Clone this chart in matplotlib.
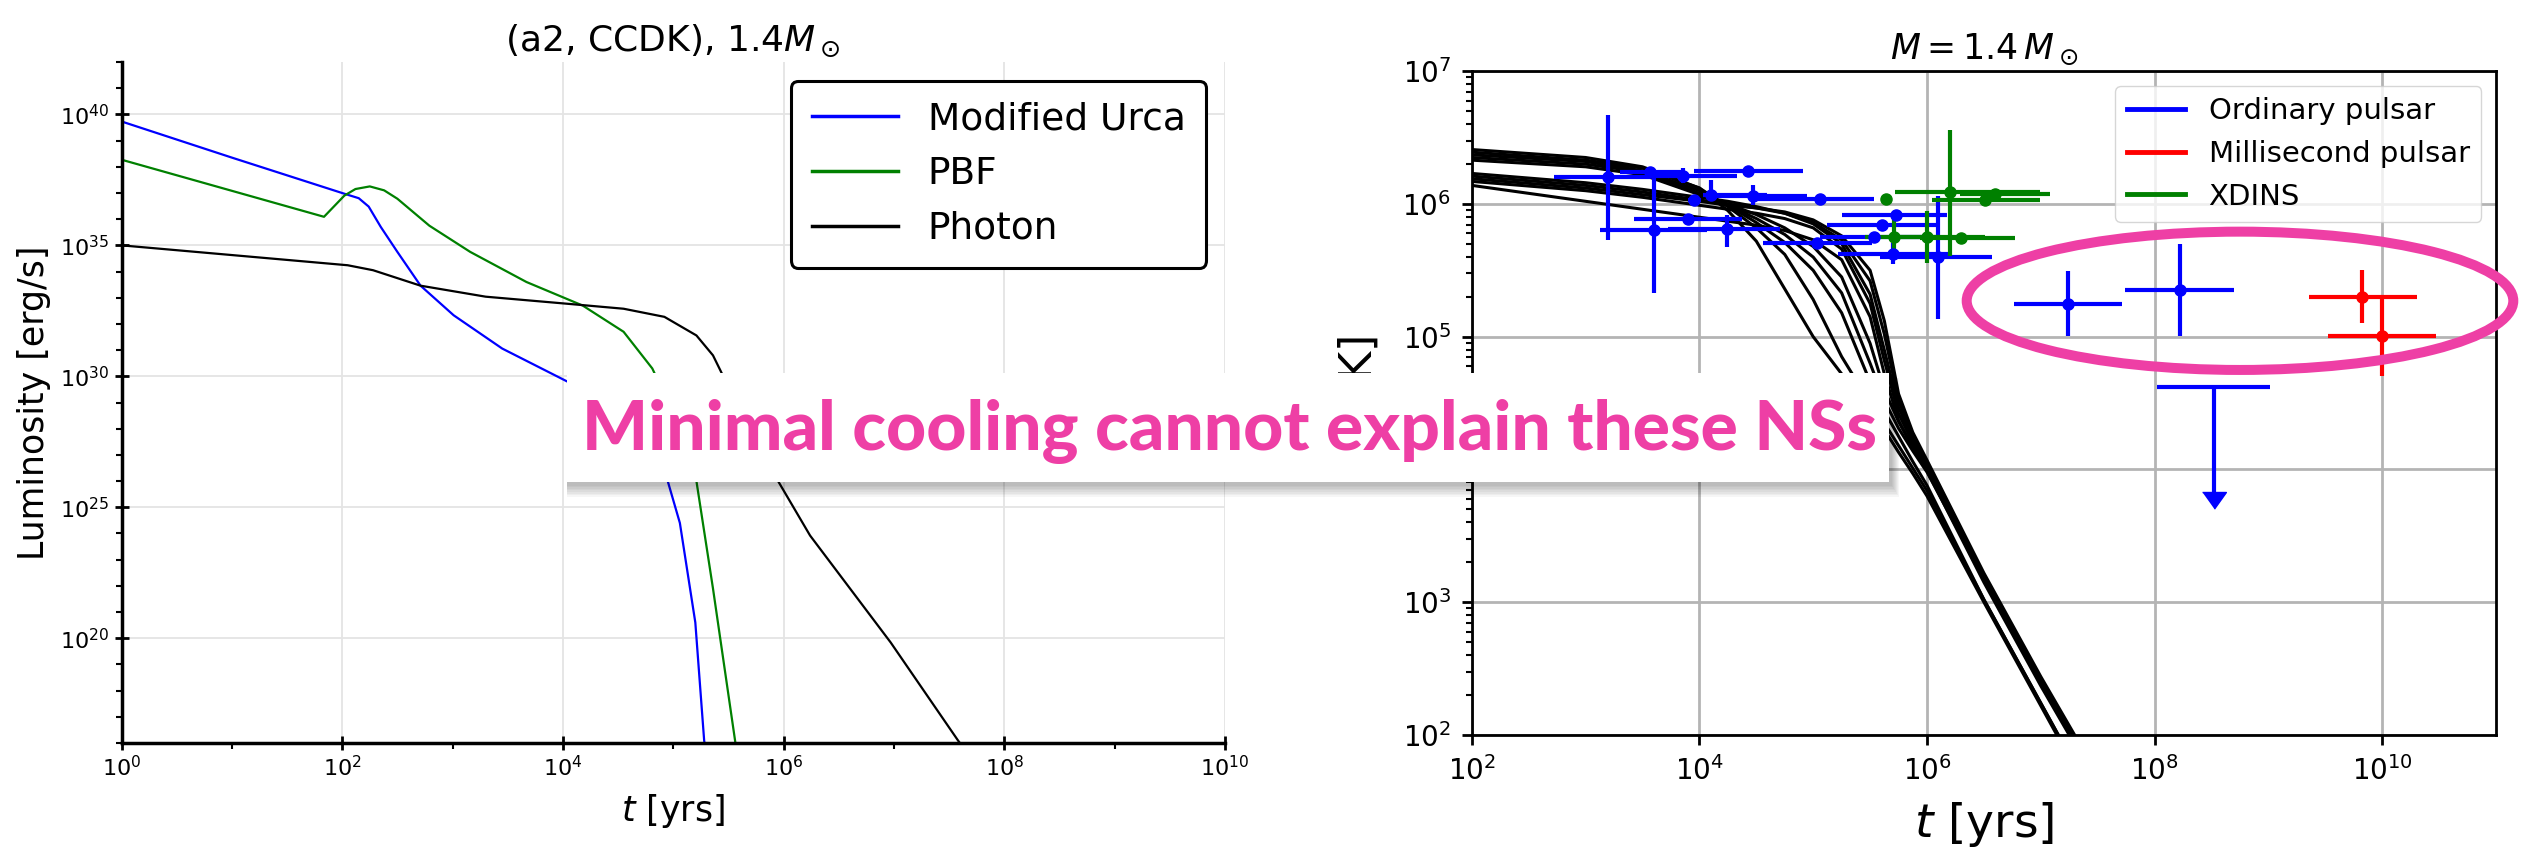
import numpy as np
import matplotlib
matplotlib.use("Agg")
import matplotlib.pyplot as plt
from matplotlib.patches import Rectangle, Ellipse
from matplotlib.lines import Line2D
from matplotlib.ticker import NullFormatter, NullLocator, LogLocator

W, H = 2541, 848
PINK = "#EE3FA5"

# ---------------- left panel: luminosity (log10 t [yr], log10 L [erg/s])
urca_logt = [0, 1.0, 2.02, 2.15, 2.24, 2.35, 2.5, 2.71, 3.01, 3.45, 4.04, 4.3, 4.6, 4.8, 4.95, 5.06, 5.2, 5.28, 5.30]
urca_logL = [39.73, 38.35, 36.97, 36.8, 36.48, 35.7, 34.75, 33.46, 32.33, 31.06, 29.8, 29.2, 28.4, 27.3, 26.0, 24.4, 20.6, 16.1, 15.5]

pbf_logt = [0, 1.835, 2.02, 2.12, 2.25, 2.38, 2.5, 2.79, 3.16, 3.67, 4.18, 4.55, 4.81, 5.0, 5.21, 5.36, 5.56, 5.58]
pbf_logL = [38.27, 36.09, 36.9, 37.15, 37.25, 37.1, 36.78, 35.75, 34.75, 33.6, 32.7, 31.7, 30.3, 28.6, 26.0, 21.9, 16.1, 15.5]

photon_logt = [0, 2.05, 2.28, 2.71, 3.30, 4.04, 4.55, 4.92, 5.21, 5.36, 5.43, 5.6, 5.75, 5.95, 6.24, 6.97, 7.58, 7.65]
photon_logL = [35.0, 34.24, 34.05, 33.46, 33.04, 32.77, 32.58, 32.27, 31.56, 30.8, 30.2, 28.7, 27.5, 26.0, 23.92, 19.84, 16.1, 15.7]

# ---------------- right panel: cooling curves (log10 t [yr], log10 T [K])
curve_logt = [2.0, 3.0, 3.5, 4.0, 4.25, 4.5, 4.75, 5.0, 5.25, 5.5, 5.625, 5.75, 5.875, 6.0, 6.5, 7.0, 7.5]
curves_logT = [
    [6.41, 6.35, 6.28, 6.12, 5.95, 5.72, 5.36, 5.00, 4.72, 4.45, 4.30, 4.13, 3.97, 3.80, 3.00, 2.22, 1.44],
    [6.39, 6.33, 6.27, 6.12, 5.98, 5.82, 5.62, 5.28, 4.85, 4.50, 4.35, 4.18, 4.01, 3.84, 3.02, 2.24, 1.46],
    [6.37, 6.32, 6.25, 6.10, 5.99, 5.86, 5.71, 5.50, 5.18, 4.66, 4.44, 4.25, 4.06, 3.88, 3.02, 2.24, 1.46],
    [6.35, 6.30, 6.24, 6.08, 5.99, 5.89, 5.77, 5.60, 5.33, 4.80, 4.52, 4.31, 4.14, 3.98, 3.18, 2.40, 1.62],
    [6.33, 6.28, 6.22, 6.07, 6.00, 5.92, 5.82, 5.68, 5.45, 4.95, 4.60, 4.36, 4.17, 4.00, 3.20, 2.42, 1.64],
    [6.23, 6.16, 6.11, 6.05, 6.02, 5.98, 5.93, 5.85, 5.70, 5.32, 4.90, 4.47, 4.22, 4.03, 3.18, 2.40, 1.66],
    [6.21, 6.14, 6.09, 6.03, 6.00, 5.97, 5.93, 5.86, 5.73, 5.42, 5.02, 4.52, 4.25, 4.05, 3.20, 2.42, 1.68],
    [6.19, 6.12, 6.07, 6.02, 5.99, 5.97, 5.94, 5.88, 5.76, 5.50, 5.12, 4.57, 4.28, 4.07, 3.22, 2.44, 1.70],
    [6.17, 6.10, 6.05, 5.99, 5.96, 5.93, 5.89, 5.82, 5.66, 5.25, 4.82, 4.42, 4.20, 4.01, 3.17, 2.39, 1.65],
    [6.14, 6.02, 5.96, 5.90, 5.87, 5.84, 5.80, 5.73, 5.58, 5.15, 4.72, 4.37, 4.16, 3.99, 3.15, 2.37, 1.63],
]

# observations: log t, log t_lo, log t_hi, log T, log T_lo, log T_hi
ord_t    = [3.200, 3.567, 3.854, 4.431, 3.604, 3.904, 4.241, 4.103, 3.956, 4.469, 5.061, 5.037, 5.530, 5.729, 5.603, 5.700, 6.101, 7.239, 8.220]
ord_tlo  = [2.723, 3.300, 3.567, 3.953, 3.127, 3.426, 3.728, 4.035, 3.900, 4.123, 4.475, 4.563, 5.060, 5.252, 5.120, 5.222, 5.590, 6.767, 7.742]
ord_thi  = [3.567, 3.850, 4.329, 4.909, 4.065, 4.373, 4.710, 4.593, 4.010, 4.944, 5.530, 5.516, 6.000, 6.175, 6.087, 6.207, 6.571, 7.713, 8.695]
ord_T    = [6.200, 6.241, 6.208, 6.251, 5.803, 5.888, 5.808, 6.071, 6.033, 6.058, 6.040, 5.706, 5.753, 5.920, 5.838, 5.620, 5.603, 5.250, 5.352]
ord_Tlo  = [5.727, 6.220, 6.158, 6.230, 5.327, 5.860, 5.675, 6.033, 6.010, 5.995, 6.020, 5.690, 5.740, 5.900, 5.820, 5.545, 5.132, 5.007, 5.007]
ord_Thi  = [6.670, 6.260, 6.271, 6.270, 6.208, 5.910, 5.920, 6.178, 6.050, 6.146, 6.060, 5.720, 5.770, 5.940, 5.860, 5.708, 6.058, 5.495, 5.695]

ms_t   = [9.823, 9.999]
ms_tlo = [9.354, 9.521]
ms_thi = [10.307, 10.477]
ms_T   = [5.300, 5.002]
ms_Tlo = [5.102, 4.702]
ms_Thi = [5.500, 5.295]

xd_t   = [5.640, 6.204, 6.512, 6.600, 5.712, 6.000, 6.300]
xd_tlo = [5.600, 5.720, 6.043, 6.294, 5.458, 5.678, 5.942]
xd_thi = [5.680, 6.995, 6.995, 7.077, 6.118, 6.513, 6.777]
xd_T   = [6.040, 6.088, 6.033, 6.078, 5.753, 5.753, 5.743]
xd_Tlo = [6.030, 5.607, 6.020, 6.065, 5.632, 5.553, 5.730]
xd_Thi = [6.050, 6.559, 6.045, 6.090, 5.895, 5.945, 5.755]

# upper limit (ordinary pulsar)
lim_t, lim_tlo, lim_thi = 8.519, 8.021, 9.017
lim_T, lim_Tlow = 4.624, 3.83

legend_labels = ["Ordinary pulsar", "Millisecond pulsar", "XDINS"]
legend_colors = ["blue", "red", "green"]

# y tick labels of the right panel (10^4 sits under the banner)
right_yticks = [2, 3, 4, 5, 6, 7]
right_ylabels = [r"$10^{2}$", r"$10^{3}$", "", r"$10^{5}$", r"$10^{6}$", r"$10^{7}$"]


def px(x0, y0, x1, y1):
    # pixel box (top-left origin) -> figure fraction rect
    return [x0 / W, 1 - y1 / H, (x1 - x0) / W, (y1 - y0) / H]


fig = plt.figure(figsize=(W / 100, H / 100), dpi=100)
axL = fig.add_axes(px(121.5, 62, 1225, 743))
axR = fig.add_axes(px(1471.8, 71.2, 2496, 735))

# ---------- left
axL.plot(10 ** np.array(urca_logt), 10 ** np.array(urca_logL), color="blue", lw=1.6, label="Modified Urca")
axL.plot(10 ** np.array(pbf_logt), 10 ** np.array(pbf_logL), color="green", lw=1.6, label="PBF")
axL.plot(10 ** np.array(photon_logt), 10 ** np.array(photon_logL), color="black", lw=1.6, label="Photon")
axL.set_xscale("log")
axL.set_yscale("log")
axL.set_xlim(1, 1e10)
axL.set_ylim(1e16, 1e42)
axL.set_xticks([10.0 ** k for k in range(0, 11, 2)])
axL.set_xticks([10.0 ** k for k in range(1, 10, 2)], minor=True)
axL.set_yticks([10.0 ** k for k in range(20, 41, 5)])
axL.set_yticks([10.0 ** k for k in range(16, 43) if k % 5], minor=True)
axL.xaxis.set_minor_formatter(NullFormatter())
axL.yaxis.set_minor_formatter(NullFormatter())
axL.grid(True, which="major", color="#e4e4e4", lw=1.3)
axL.set_axisbelow(True)
for s in ["top", "right"]:
    axL.spines[s].set_visible(False)
for s in ["left", "bottom"]:
    axL.spines[s].set_linewidth(2.5)
axL.tick_params(which="major", direction="inout", length=10, width=2, labelsize=16, pad=4)
axL.tick_params(which="minor", direction="out", length=4, width=1.5)
axL.set_title(r"(a2, CCDK), $1.4M_\odot$", fontsize=26, pad=8)
axL.set_xlabel(r"$t$ [yrs]", fontsize=25, labelpad=8)
axL.set_ylabel("Luminosity [erg/s]", fontsize=25, labelpad=6)
legL = axL.legend(loc="upper right", fontsize=27, framealpha=1, edgecolor="black",
                  handlelength=2.3, borderpad=0.55)
legL.get_frame().set_linewidth(2.2)
for ln in legL.get_lines():
    ln.set_linewidth(2.5)

# ---------- right
for vals in curves_logT:
    axR.plot(10 ** np.array(curve_logt), 10 ** np.array(vals), color="black", lw=2.2, zorder=2)


def obs(t, tlo, thi, T, Tlo, Thi, color):
    t, tlo, thi = 10 ** np.array(t), 10 ** np.array(tlo), 10 ** np.array(thi)
    T, Tlo, Thi = 10 ** np.array(T), 10 ** np.array(Tlo), 10 ** np.array(Thi)
    axR.errorbar(t, T, xerr=[t - tlo, thi - t], yerr=[T - Tlo, Thi - T], fmt="o",
                 color=color, ms=8, elinewidth=3, capsize=0, zorder=3)


obs(ord_t, ord_tlo, ord_thi, ord_T, ord_Tlo, ord_Thi, "blue")
obs(ms_t, ms_tlo, ms_thi, ms_T, ms_Tlo, ms_Thi, "red")
obs(xd_t, xd_tlo, xd_thi, xd_T, xd_Tlo, xd_Thi, "green")

lt, lT = 10 ** lim_t, 10 ** lim_T
axR.errorbar([lt], [lT], xerr=[[lt - 10 ** lim_tlo], [10 ** lim_thi - lt]],
             yerr=[[lT - 10 ** lim_Tlow], [0]], fmt="none", color="blue", elinewidth=3, zorder=3)
axR.plot([lt], [10 ** lim_Tlow], ls="none", color="blue", ms=24,
         marker=[(-1, 0), (1, 0), (0, -1.4)], zorder=3)

axR.set_xscale("log")
axR.set_yscale("log")
axR.set_xlim(1e2, 1e11)
axR.set_ylim(1e2, 1e7)
axR.set_xticks([10.0 ** k for k in range(2, 11, 2)])
axR.xaxis.set_minor_locator(NullLocator())
axR.set_yticks([10.0 ** k for k in right_yticks], right_ylabels)
axR.yaxis.set_minor_locator(LogLocator(base=10, subs=np.arange(2, 10), numticks=20))
axR.yaxis.set_minor_formatter(NullFormatter())
axR.grid(True, which="major", color="#b4b4b4", lw=2)
axR.set_axisbelow(True)
for s in axR.spines.values():
    s.set_linewidth(2)
axR.tick_params(which="major", direction="out", length=7, width=2, labelsize=20, pad=8)
axR.tick_params(which="minor", direction="out", length=4, width=1.5)
axR.set_title(r"$M = 1.4\,M_\odot$", fontsize=25, pad=9)
axR.set_xlabel(r"$t$ [yrs]", fontsize=34, labelpad=10)
axR.set_ylabel(r"$T_s^{\infty}$ [K]", fontsize=32, labelpad=12)
handles = [Line2D([], [], color=c, lw=3.5) for c in legend_colors]
axR.legend(handles, legend_labels, loc="upper right", fontsize=21)

# ---------- overlay: pink ellipse and banner
ell = Ellipse((2240 / W, 1 - 300.8 / H), 546.6 / W, 138.3 / H, transform=fig.transFigure,
              fill=False, edgecolor=PINK, lw=7.2, zorder=20)
fig.add_artist(ell)

bx0, by0, bx1, by1 = 567, 373, 1889, 482
for i in range(8, 0, -1):
    r = Rectangle((bx0 / W, 1 - (by1 + 2 + i * 1.6) / H), (bx1 - bx0 + 2 + i) / W,
                  (by1 - by0 + i * 1.2) / H, transform=fig.transFigure,
                  facecolor="black", edgecolor="none", alpha=0.035, zorder=29)
    fig.add_artist(r)
fig.add_artist(Rectangle((bx0 / W, 1 - by1 / H), (bx1 - bx0) / W, (by1 - by0) / H,
                         transform=fig.transFigure, facecolor="white", edgecolor="none", zorder=30))
fig.text(1230 / W, 1 - 450 / H, "Minimal cooling cannot explain these NSs", ha="center", va="baseline",
         fontsize=50, color=PINK, fontweight="black", family=["Lato", "DejaVu Sans"], zorder=31)

fig.savefig("out.png", dpi=100)
